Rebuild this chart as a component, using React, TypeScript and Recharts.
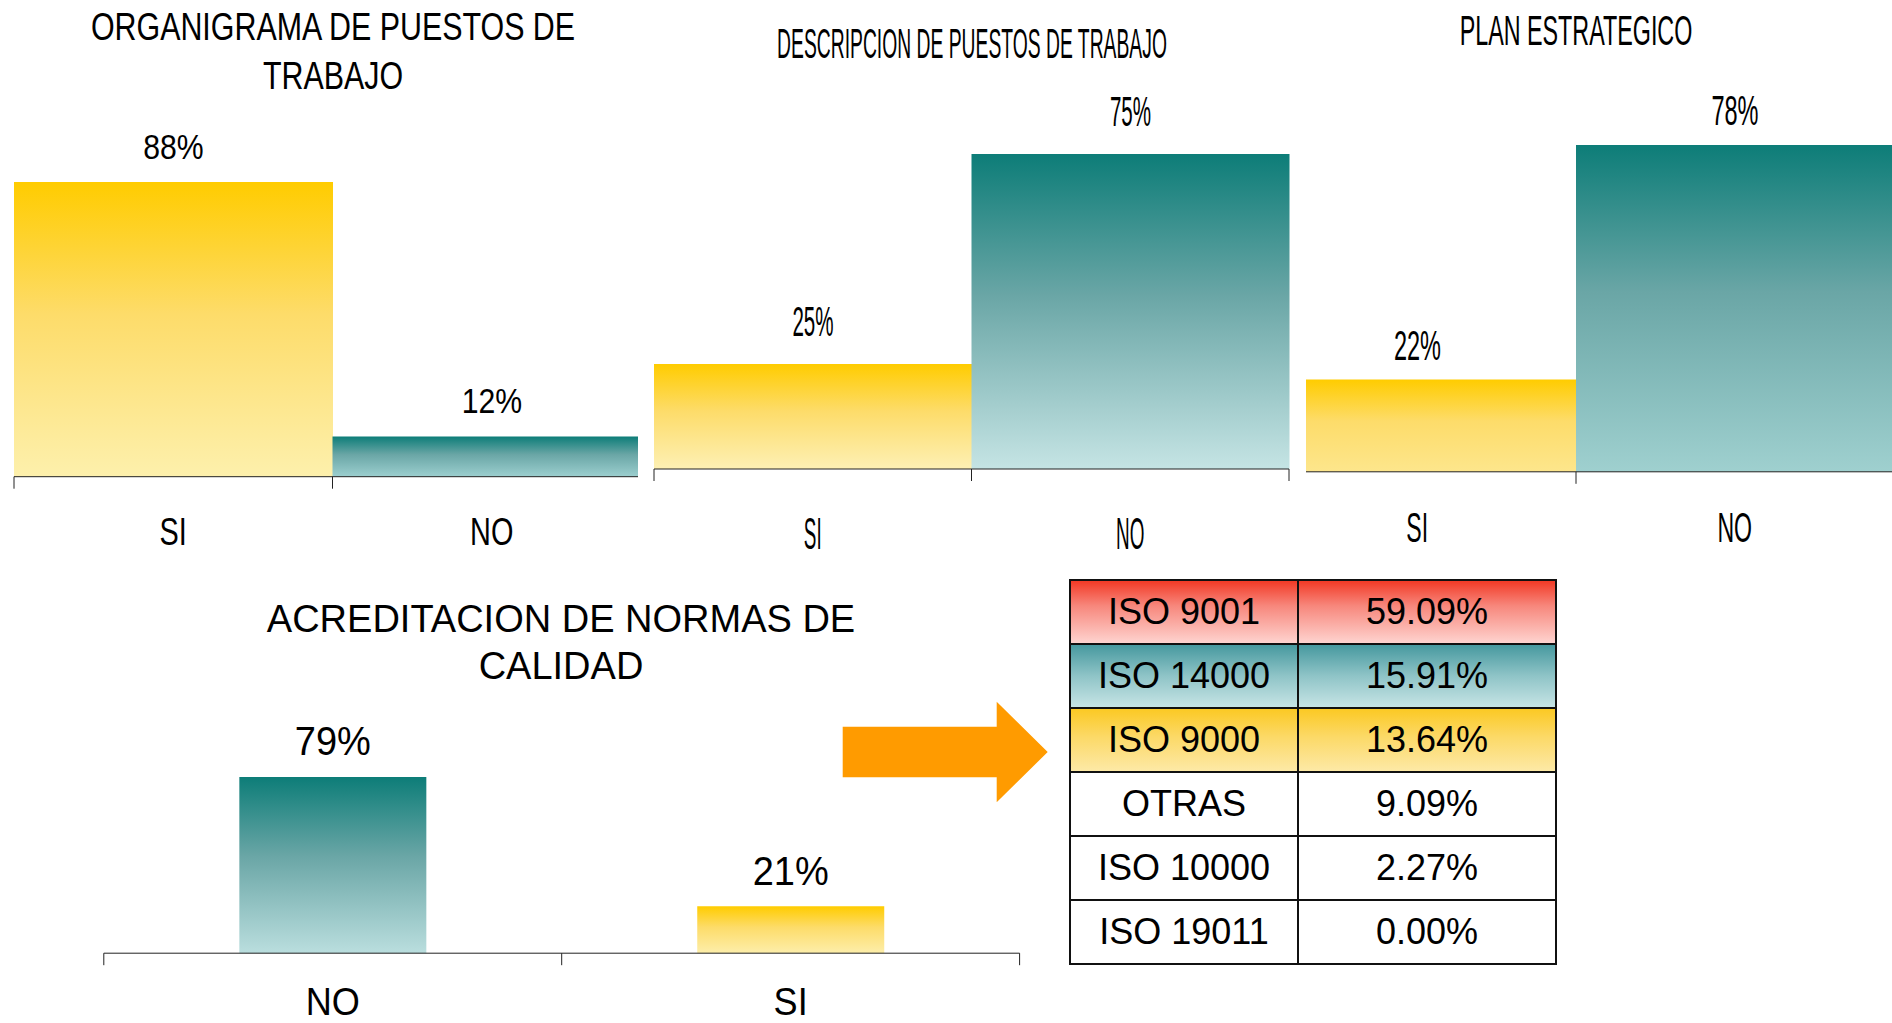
import React from "react";
import { BarChart, Bar, XAxis, YAxis, Cell, LabelList } from "recharts";

// survey answers, in percent
const siNo = ["SI", "NO"];
const organigrama = [88, 12];
const descripcion = [25, 75];
const planEstrategico = [22, 78];
const acredCats = ["NO", "SI"];
const acreditacion = [79, 21];

// breakdown of the accredited firms
const normas = ["ISO 9001", "ISO 14000", "ISO 9000", "OTRAS", "ISO 10000", "ISO 19011"];
const normasPct = [59.09, 15.91, 13.64, 9.09, 2.27, 0.0];

const FONT = "'Liberation Sans', Arial, Helvetica, sans-serif";

const rowBg = [
  "linear-gradient(to bottom, #f23a26 0%, #f7877c 40%, #fed3cf 100%)",
  "linear-gradient(to bottom, #47999f 0%, #8fc4c7 50%, #c6e4e5 100%)",
  "linear-gradient(to bottom, #fbc924 0%, #fcd967 45%, #fde9a6 100%)",
  "#fff",
  "#fff",
  "#fff",
];

function SqText({ x, y, size, sx, children }: any) {
  return (
    <text
      transform={`translate(${x},${y}) scale(${sx},1)`}
      textAnchor="middle"
      fontFamily={FONT}
      fontSize={size}
      fill="#000"
      dy={size * 0.358}
    >
      {children}
    </text>
  );
}

interface MiniProps {
  id: string;
  cats: string[];
  values: number[];
  kinds: ("y" | "t")[];
  left: number;
  top: number;
  width: number;
  height: number;
  margin: { top: number; right: number; bottom: number; left: number };
  band: number;
  gap: number | string;
  labelDy: number;
  labelSize: number;
  labelSx: number;
  tickDy: number;
  tickSize: number;
  tickSx: number;
  tealBottom: string;
  yellowBottom: string;
  bg?: string;
}

function MiniBar(p: MiniProps) {
  const data = p.cats.map((c, i) => ({ cat: c, v: p.values[i] }));

  const renderTick = (t: any) => {
    const { x, y, payload, index } = t;
    const half = p.band / 2;
    return (
      <g>
        <line x1={x - half} x2={x - half} y1={y} y2={y + 12} stroke="#222" />
        {index === p.cats.length - 1 && (
          <line x1={x + half} x2={x + half} y1={y} y2={y + 12} stroke="#222" />
        )}
        <SqText x={x} y={y + p.tickDy} size={p.tickSize} sx={p.tickSx}>
          {payload.value}
        </SqText>
      </g>
    );
  };

  const renderLabel = (l: any) => {
    const { x, y, width, value } = l;
    return (
      <SqText x={Number(x) + Number(width) / 2} y={Number(y) - p.labelDy} size={p.labelSize} sx={p.labelSx}>
        {value}%
      </SqText>
    );
  };

  return (
    <div
      style={{
        position: "absolute",
        left: p.left,
        top: p.top,
        width: p.width,
        height: p.height,
        background: p.bg || "transparent",
      }}
    >
      <BarChart width={p.width} height={p.height} data={data} margin={p.margin} barCategoryGap={p.gap}>
        <defs>
          <linearGradient id={`${p.id}-y`} x1="0" y1="0" x2="0" y2="1">
            <stop offset="0" stopColor="#ffcc00" />
            <stop offset="0.45" stopColor="#fddc6a" />
            <stop offset="1" stopColor={p.yellowBottom} />
          </linearGradient>
          <linearGradient id={`${p.id}-t`} x1="0" y1="0" x2="0" y2="1">
            <stop offset="0" stopColor="#0d7d78" />
            <stop offset="0.45" stopColor="#6aa6a6" />
            <stop offset="1" stopColor={p.tealBottom} />
          </linearGradient>
        </defs>
        <YAxis hide domain={[0, 100]} />
        <XAxis
          dataKey="cat"
          height={60}
          tickSize={0}
          tickMargin={0}
          tickLine={false}
          axisLine={{ stroke: "#222" }}
          tick={renderTick}
          interval={0}
        />
        <Bar dataKey="v" isAnimationActive={false}>
          {data.map((d, i) => (
            <Cell key={d.cat} fill={`url(#${p.id}-${p.kinds[i]})`} />
          ))}
          <LabelList dataKey="v" content={renderLabel} />
        </Bar>
      </BarChart>
    </div>
  );
}

export default function App() {
  return (
    <div
      style={{
        position: "absolute",
        left: 0,
        top: 0,
        width: 1892,
        height: 1023,
        overflow: "hidden",
        background: "#fff",
      }}
    >
      <MiniBar
        id="org"
        cats={siNo}
        values={organigrama}
        kinds={["y", "t"]}
        left={0}
        top={0}
        width={660}
        height={560}
        margin={{ top: 141.8, right: 9, bottom: 23.3, left: 14 }}
        band={318.5}
        gap={0}
        labelDy={36}
        labelSize={36}
        labelSx={0.84}
        tickDy={54.3}
        tickSize={38}
        tickSx={0.76}
        tealBottom="#9ccfcf"
        yellowBottom="#fdf0ac"
      />
      <MiniBar
        id="plan"
        cats={siNo}
        values={planEstrategico}
        kinds={["y", "t"]}
        left={1240}
        top={0}
        width={680}
        height={560}
        margin={{ top: 52.8, right: 26.5, bottom: 28.2, left: 18.5 }}
        band={317.5}
        gap={0}
        labelDy={35}
        labelSize={42}
        labelSx={0.56}
        tickDy={55.2}
        tickSize={42}
        tickSx={0.55}
        tealBottom="#9fd0cf"
        yellowBottom="#fde68c"
      />
      <MiniBar
        id="desc"
        cats={siNo}
        values={descripcion}
        kinds={["y", "t"]}
        left={638}
        top={0}
        width={668}
        height={560}
        margin={{ top: 49, right: 17, bottom: 31, left: 16 }}
        band={317.5}
        gap={0}
        labelDy={43}
        labelSize={42}
        labelSx={0.49}
        tickDy={64}
        tickSize={45}
        tickSx={0.42}
        tealBottom="#c5e4e4"
        yellowBottom="#fdf0b4"
        bg="#fff"
      />
      <MiniBar
        id="acr"
        cats={acredCats}
        values={acreditacion}
        kinds={["t", "y"]}
        left={90}
        top={560}
        width={940}
        height={463}
        margin={{ top: 170.2, right: 10.4, bottom: 9.8, left: 13.8 }}
        band={457.9}
        gap="29.6%"
        labelDy={36}
        labelSize={40}
        labelSx={0.95}
        tickDy={48}
        tickSize={38}
        tickSx={0.95}
        tealBottom="#badede"
        yellowBottom="#fdeeaa"
      />

      <svg
        width={1892}
        height={1023}
        style={{ position: "absolute", left: 0, top: 0, pointerEvents: "none" }}
      >
        <SqText x={333} y={26.5} size={38} sx={0.8}>ORGANIGRAMA DE PUESTOS DE</SqText>
        <SqText x={333} y={75} size={38} sx={0.8}>TRABAJO</SqText>
        <SqText x={972} y={43.4} size={42} sx={0.46}>DESCRIPCION DE PUESTOS DE TRABAJO</SqText>
        <SqText x={1576} y={30} size={42} sx={0.555}>PLAN ESTRATEGICO</SqText>
        <SqText x={561} y={618} size={38} sx={1}>ACREDITACION DE NORMAS DE</SqText>
        <SqText x={561} y={665} size={38} sx={1}>CALIDAD</SqText>
        <polygon
          points="842.7,726.7 996.7,726.7 996.7,701.7 1047.7,752 996.7,802.3 996.7,777.3 842.7,777.3"
          fill="#ff9b00"
        />
      </svg>

      <table
        style={{
          position: "absolute",
          left: 1069,
          top: 579,
          width: 486,
          height: 384,
          borderCollapse: "collapse",
          fontFamily: FONT,
          fontSize: 36,
          color: "#000",
          tableLayout: "fixed",
        }}
      >
        <colgroup>
          <col style={{ width: 228 }} />
          <col style={{ width: 258 }} />
        </colgroup>
        <tbody>
          {normas.map((n, i) => (
            <tr key={n} style={{ height: 64 }}>
              <td style={{ border: "2px solid #111", background: rowBg[i], textAlign: "center", padding: 0 }}>{n}</td>
              <td style={{ border: "2px solid #111", background: rowBg[i], textAlign: "center", padding: 0 }}>
                {normasPct[i].toFixed(2)}%
              </td>
            </tr>
          ))}
        </tbody>
      </table>
    </div>
  );
}
